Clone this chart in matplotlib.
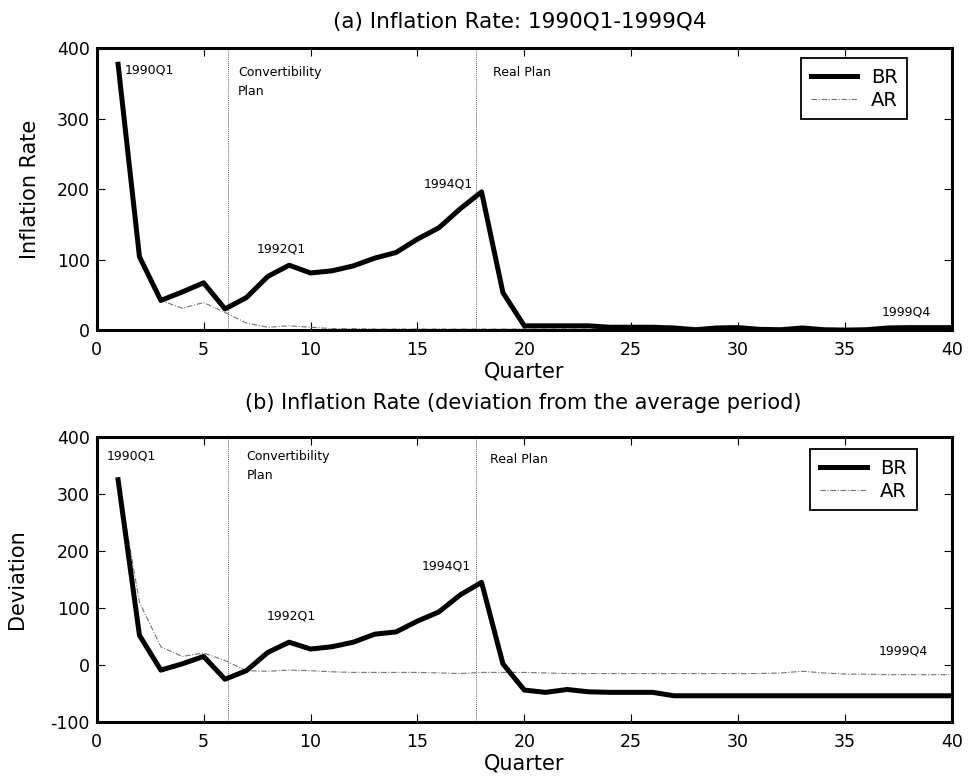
import numpy as np
import matplotlib.pyplot as plt

plt.rcParams['font.family'] = ['DejaVu Sans']
plt.rcParams['axes.unicode_minus'] = False

quarter = np.arange(1, 41)

# panel (a): inflation rate
br_rate = [377, 104, 42, 54, 67, 30, 46, 76, 92, 81,
           84, 91, 102, 110, 129, 145, 172, 196, 53, 6,
           6, 6, 6, 4, 4, 4, 3, 0.5, 3, 3.5,
           1, 0.5, 3, 0.5, 0, 0.5, 3, 3.5, 3.5, 3.5]
ar_rate = [377, 105, 42, 31, 39, 25, 10, 4, 6, 4,
           2, 2, 1.5, 1.5, 1.5, 1.5, 1.5, 1.5, 1.5, 1.5,
           1.5, 1.5, 1.5, 1.5, 1.5, 1.5, 1.5, 1.5, 1.5, 1.5,
           1.5, 1.5, 1.5, 1.5, 1.5, 1.5, 1.5, 1.5, 1.5, 1.5]

# panel (b): deviation from period average
br_dev = [325, 52, -9, 2, 15, -25, -10, 22, 40, 28,
          32, 40, 54, 58, 77, 93, 123, 145, 2, -44,
          -48, -43, -47, -48, -48, -48, -54, -54, -54, -54,
          -54, -54, -54, -54, -54, -54, -54, -54, -54, -54]
ar_dev = [325, 110, 32, 15, 21, 8, -10, -11, -9, -10,
          -12, -13, -13, -13, -13, -14, -15, -13, -13, -13,
          -14, -15, -15, -15, -15, -15, -15, -15, -15, -15,
          -15, -14, -11, -14, -16, -16, -17, -17, -17, -17]

plan_lines = [6.15, 17.75]

fig = plt.figure(figsize=(9.68, 7.84), dpi=100)
ax1 = fig.add_axes([0.0999, 0.579, 0.8835, 0.3597])
ax2 = fig.add_axes([0.0999, 0.0791, 0.8835, 0.3635])


def style(ax, br, ar, ylim, ylabel, ypad, leg_anchor):
    ax.plot(quarter, br, color='black', lw=3.6, label='BR', zorder=3)
    ax.plot(quarter, ar, color='0.45', lw=0.8,
            ls=(0, (5, 1.5, 1, 1.5)), label='AR', zorder=2)
    for xv in plan_lines:
        ax.axvline(xv, color='0.4', lw=0.7, ls=(0, (1, 1)), zorder=1)
    ax.set_xlim(0, 40)
    ax.set_ylim(*ylim)
    ax.set_xticks(range(0, 41, 5))
    ax.set_yticks(range(ylim[0], ylim[1] + 1, 100))
    ax.tick_params(direction='in', top=True, right=True, length=6,
                   width=0.8, labelsize=12.5)
    ax.tick_params(axis='x', pad=8)
    ax.tick_params(axis='y', pad=5)
    for s in ax.spines.values():
        s.set_linewidth(2.2)
    ax.set_xlabel('Quarter', fontsize=15, labelpad=2)
    ax.set_ylabel(ylabel, fontsize=15, labelpad=ypad)
    leg = ax.legend(loc='upper right', bbox_to_anchor=leg_anchor,
                    borderaxespad=0, fontsize=14, fancybox=False,
                    edgecolor='black', handlelength=2.4, borderpad=0.5,
                    labelspacing=0.2, handletextpad=0.7, framealpha=1)
    leg.get_frame().set_linewidth(1.3)


style(ax1, br_rate, ar_rate, (0, 400), 'Inflation Rate', 12, (0.948, 0.965))
style(ax2, br_dev, ar_dev, (-100, 400), 'Deviation', 17, (0.959, 0.958))

fig.text(0.537, 0.972, '(a) Inflation Rate: 1990Q1-1999Q4',
         fontsize=15.5, ha='center', va='center')
fig.text(0.541, 0.4855, '(b) Inflation Rate (deviation from the average period)',
         fontsize=15, ha='center', va='center')

ann = dict(fontsize=9, color='black')
ax1.text(1.3, 369, '1990Q1', va='center', **ann)
ax1.text(6.6, 374, 'Convertibility\nPlan', va='top', linespacing=1.6, **ann)
ax1.text(18.55, 366, 'Real Plan', va='center', **ann)
ax1.text(7.5, 115, '1992Q1', va='center', **ann)
ax1.text(17.6, 207, '1994Q1', va='center', ha='right', **ann)
ax1.text(39.0, 25, '1999Q4', va='center', ha='right', **ann)

ax2.text(0.45, 367, '1990Q1', va='center', **ann)
ax2.text(7.0, 378, 'Convertibility\nPlan', va='top', linespacing=1.6, **ann)
ax2.text(18.4, 361, 'Real Plan', va='center', **ann)
ax2.text(7.95, 86, '1992Q1', va='center', **ann)
ax2.text(17.5, 174, '1994Q1', va='center', ha='right', **ann)
ax2.text(38.9, 24, '1999Q4', va='center', ha='right', **ann)

fig.savefig('out.png', dpi=100)
